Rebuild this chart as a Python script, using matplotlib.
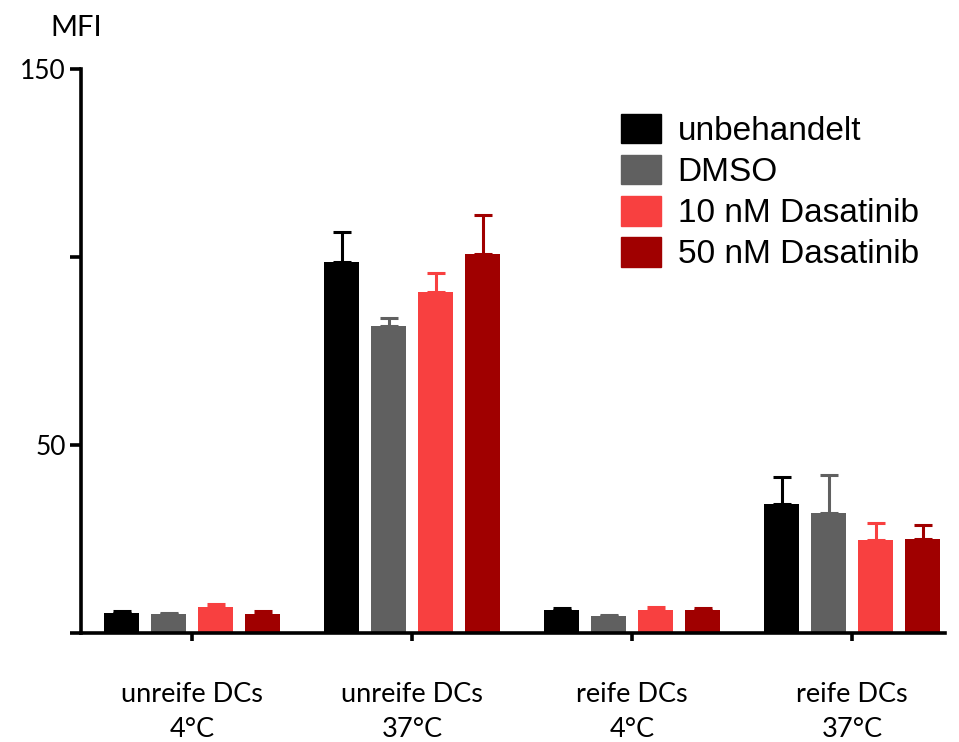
import numpy as np
import matplotlib
matplotlib.use("Agg")
import matplotlib.pyplot as plt
from matplotlib.patches import Patch

groups = ["unreife DCs\n4°C", "unreife DCs\n37°C", "reife DCs\n4°C", "reife DCs\n37°C"]
series = ["unbehandelt", "DMSO", "10 nM Dasatinib", "50 nM Dasatinib"]
colors = ["#000000", "#606060", "#F84040", "#A00000"]

unbehandelt = [5.2, 98.7, 6.1, 34.2]
dmso = [5.0, 81.7, 4.5, 31.8]
dasatinib10 = [7.0, 90.7, 6.1, 24.7]
dasatinib50 = [5.0, 100.8, 6.1, 25.1]

err_unbehandelt = [0.7, 7.9, 0.4, 7.3]
err_dmso = [0.4, 2.1, 0.4, 10.1]
err_dasatinib10 = [0.8, 5.0, 0.9, 4.5]
err_dasatinib50 = [0.7, 10.4, 0.6, 3.7]

values = [unbehandelt, dmso, dasatinib10, dasatinib50]
errors = [err_unbehandelt, err_dmso, err_dasatinib10, err_dasatinib50]

yticks = [0, 50, 100, 150]
yticklabels = ["", "50", "", "150"]

plt.rcParams['font.family'] = ['Lato', 'DejaVu Sans']

fig = plt.figure(figsize=(9.59, 7.42), dpi=100)
ax = fig.add_axes([0.0845, 0.147, 0.9005, 0.760])

x = np.arange(len(groups))
step = 0.2136
width = 0.159
offsets = (np.arange(4) - 1.5) * step

for i in range(4):
    ax.bar(x + offsets[i], values[i], width, color=colors[i], zorder=2)
    ax.errorbar(x + offsets[i], values[i], yerr=[np.zeros(4), errors[i]],
                fmt='none', ecolor=colors[i], elinewidth=2.2, capsize=6.5,
                capthick=2.2, zorder=1)

ax.set_xlim(-0.505, 3.42)
ax.set_ylim(0, 150)
ax.set_yticks(yticks)
ax.set_yticklabels(yticklabels, fontsize=19)
ax.set_xticks(x)
ax.set_xticklabels(groups, fontsize=19.5, linespacing=1.5)

for s in ["top", "right"]:
    ax.spines[s].set_visible(False)
for s in ["left", "bottom"]:
    ax.spines[s].set_linewidth(2.6)
ax.tick_params(axis='y', length=8, width=2.6, pad=3)
ax.tick_params(axis='x', length=6, width=2.6, pad=29)

fig.text(0.079, 0.962, "MFI", fontsize=21, ha='center', va='center')

handles = [Patch(facecolor=c, edgecolor=c) for c in colors]
fig.legend(handles, series, loc='upper left', bbox_to_anchor=(0.6475, 0.846),
           frameon=False, prop={'family': 'Liberation Sans', 'size': 24},
           handlelength=1.2, handleheight=0.97, handletextpad=0.5,
           labelspacing=0.24, borderaxespad=0, borderpad=0)

fig.savefig("out.png", dpi=100)
